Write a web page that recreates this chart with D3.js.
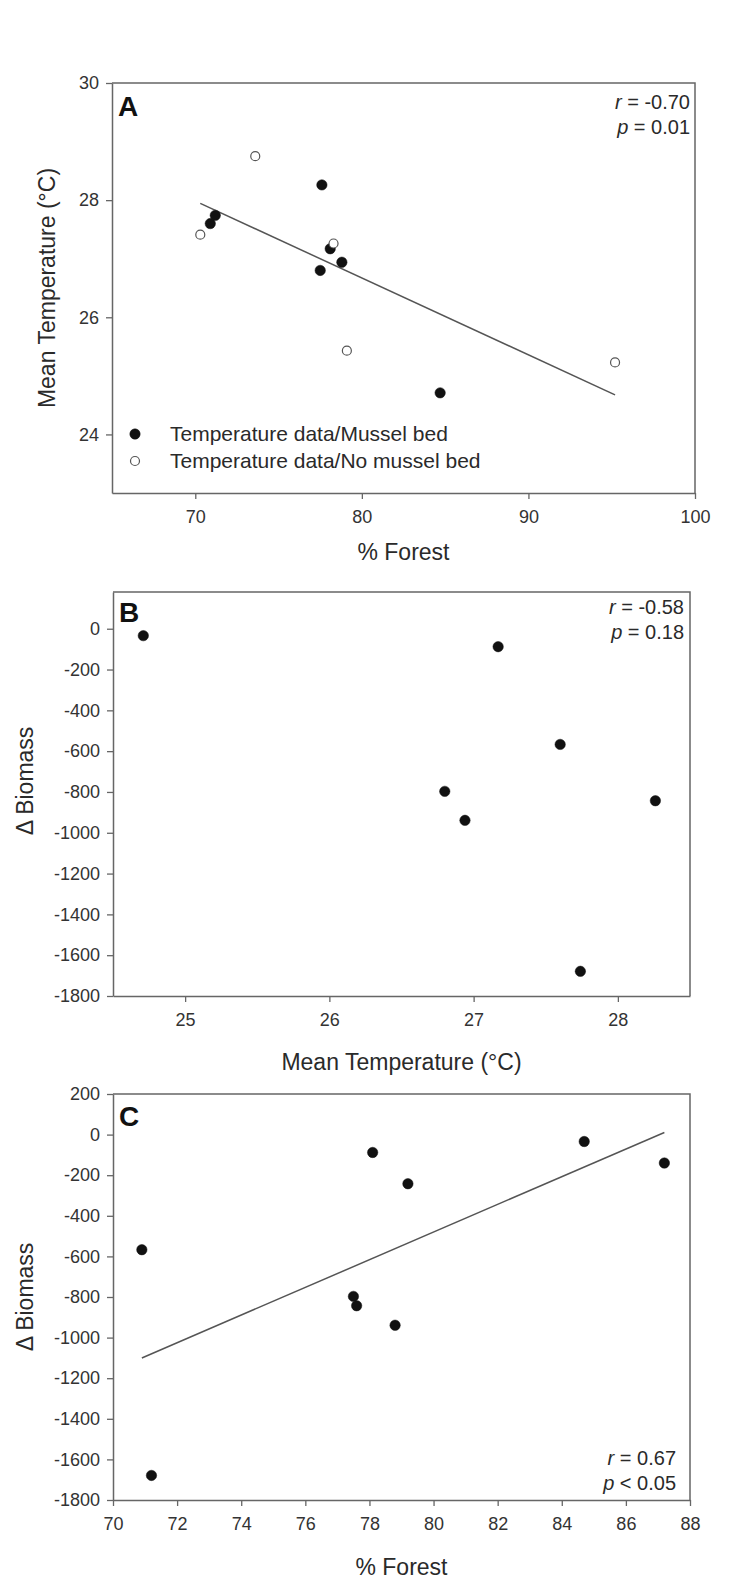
<!DOCTYPE html>
<html lang="en">
<head>
<meta charset="utf-8">
<title>Forest, temperature and mussel biomass</title>
<script src="https://cdn.jsdelivr.net/npm/d3@7"></script>
<style>
  body { margin: 0; background: #fff; }
  svg text { font-family: "Liberation Sans", Arial, sans-serif; }
</style>
</head>
<body>
<script>
// sites with temperature data and a mussel bed
var forestBed = [70.9, 71.2, 77.5, 77.6, 78.1, 78.8, 84.7];
var tempBed = [27.60, 27.74, 26.80, 28.26, 27.17, 26.94, 24.71];
var biomassBed = [-567, -1679, -797, -843, -88, -939, -34];
// sites with temperature data, no mussel bed
var forestNoBed = [70.3, 73.6, 78.3, 79.1, 95.2];
var tempNoBed = [27.41, 28.75, 27.26, 25.43, 25.23];
// sites with biomass but no temperature logger
var forestNoTemp = [79.2, 87.2];
var biomassNoTemp = [-242, -140];

// axes
var forestTicksA = [70, 80, 90, 100];
var tempTicksA = [24, 26, 28, 30];
var tempTicksB = [25, 26, 27, 28];
var biomassTicksB = [0, -200, -400, -600, -800, -1000, -1200, -1400, -1600, -1800];
var forestTicksC = [70, 72, 74, 76, 78, 80, 82, 84, 86, 88];
var biomassTicksC = [200, 0, -200, -400, -600, -800, -1000, -1200, -1400, -1600, -1800];

var legendLabels = ["Temperature data/Mussel bed", "Temperature data/No mussel bed"];
var statsA = [["r", " = -0.70"], ["p", " = 0.01"]];
var statsB = [["r", " = -0.58"], ["p", " = 0.18"]];
var statsC = [["r", " = 0.67"], ["p", " < 0.05"]];

var w = 731, h = 1581;
var ink = "#2a2a2a";
var axisGrey = "#666";

var svg = d3.select("body").append("svg")
  .attr("width", w)
  .attr("height", h);

// simple least squares, returns [slope, intercept]
function fitLine(xs, ys) {
  var mx = d3.mean(xs), my = d3.mean(ys);
  var sxy = 0, sxx = 0;
  for (var i = 0; i < xs.length; i++) {
    sxy += (xs[i] - mx) * (ys[i] - my);
    sxx += (xs[i] - mx) * (xs[i] - mx);
  }
  var b = sxy / sxx;
  return [b, my - b * mx];
}

function zip(xs, ys) {
  return xs.map(function(v, i) { return [v, ys[i]]; });
}

// plain labels: "-1800", "30"
function plain(d) { return String(d); }

function drawPanel(p) {
  var g = svg.append("g");
  var x = d3.scaleLinear().domain(p.xDomain).range([p.left, p.right]);
  var y = d3.scaleLinear().domain(p.yDomain).range([p.bottom, p.top]);

  // box: top and right sides
  g.append("path")
    .attr("d", "M" + p.left + "," + p.top + "H" + p.right + "V" + p.bottom)
    .attr("fill", "none")
    .attr("stroke", axisGrey)
    .attr("stroke-width", 1.5);

  var xAxis = d3.axisBottom(x).tickValues(p.xTicks).tickFormat(plain)
    .tickSize(6).tickSizeOuter(0).tickPadding(11);
  var yAxis = d3.axisLeft(y).tickValues(p.yTicks).tickFormat(plain)
    .tickSize(6).tickSizeOuter(0).tickPadding(7);

  var gx = g.append("g")
    .attr("transform", "translate(0," + p.bottom + ")")
    .call(xAxis);
  var gy = g.append("g")
    .attr("transform", "translate(" + p.left + ",0)")
    .call(yAxis);

  [gx, gy].forEach(function(a) {
    a.attr("font-family", null).attr("font-size", null);
    a.select(".domain").attr("stroke", axisGrey).attr("stroke-width", 1.5);
    a.selectAll(".tick line").attr("stroke", axisGrey).attr("stroke-width", 1.3);
    a.selectAll(".tick text").attr("fill", "#333").attr("font-size", "18px");
  });

  // fit line
  if (p.fit) {
    var coef = fitLine(p.fit[0], p.fit[1]);
    var ext = d3.extent(p.fit[0]);
    var line = d3.line()
      .x(function(d) { return x(d); })
      .y(function(d) { return y(coef[0] * d + coef[1]); });
    g.append("path")
      .attr("d", line(ext))
      .attr("fill", "none")
      .attr("stroke", "#555")
      .attr("stroke-width", 1.5);
  }

  // points
  p.series.forEach(function(s) {
    g.selectAll(null)
      .data(zip(s.x, s.y))
      .enter()
      .append("circle")
      .attr("cx", function(d) { return x(d[0]); })
      .attr("cy", function(d) { return y(d[1]); })
      .attr("r", s.open ? 4.5 : 5.2)
      .attr("fill", s.open ? "#fff" : "#111")
      .attr("stroke", s.open ? "#555" : "#111")
      .attr("stroke-width", s.open ? 1.2 : 0.5);
  });

  // panel letter
  g.append("text")
    .attr("x", p.left + 6)
    .attr("y", p.top + p.letterDy)
    .attr("font-size", "28px")
    .attr("font-weight", "bold")
    .attr("fill", "#111")
    .text(p.letter);

  // stats
  p.stats.forEach(function(s, i) {
    var t = g.append("text")
      .attr("x", p.statsX)
      .attr("y", p.statsY + i * 25)
      .attr("text-anchor", "end")
      .attr("font-size", "20px")
      .attr("fill", ink);
    t.append("tspan").attr("font-style", "italic").text(s[0]);
    t.append("tspan").text(s[1]);
  });

  // axis titles
  g.append("text")
    .attr("x", (p.left + p.right) / 2)
    .attr("y", p.xTitleY)
    .attr("text-anchor", "middle")
    .attr("font-size", "23px")
    .attr("fill", ink)
    .text(p.xTitle);
  g.append("text")
    .attr("transform", "translate(" + p.yTitleX + "," + p.yTitleMid + ") rotate(-90)")
    .attr("text-anchor", "middle")
    .attr("font-size", "23px")
    .attr("fill", ink)
    .text(p.yTitle);

  return g;
}

// Panel A
var gA = drawPanel({
  left: 112, right: 695, top: 83, bottom: 493,
  xDomain: [65, 100], yDomain: [23, 30],
  xTicks: forestTicksA, yTicks: tempTicksA,
  series: [
    { x: forestBed, y: tempBed, open: false },
    { x: forestNoBed, y: tempNoBed, open: true }
  ],
  fit: [forestBed.concat(forestNoBed), tempBed.concat(tempNoBed)],
  letter: "A", letterDy: 33,
  stats: statsA, statsX: 690, statsY: 109,
  xTitle: "% Forest", xTitleY: 560,
  yTitle: "Mean Temperature (\u00B0C)", yTitleX: 55, yTitleMid: 288
});

// legend for panel A
legendLabels.forEach(function(lab, i) {
  var cy = 434 + i * 27;
  gA.append("circle")
    .attr("cx", 135).attr("cy", cy)
    .attr("r", i === 0 ? 5.2 : 4.5)
    .attr("fill", i === 0 ? "#111" : "#fff")
    .attr("stroke", i === 0 ? "#111" : "#555")
    .attr("stroke-width", i === 0 ? 0.5 : 1.2);
  gA.append("text")
    .attr("x", 170).attr("y", cy + 7)
    .attr("font-size", "21px")
    .attr("fill", ink)
    .text(lab);
});

// Panel B
drawPanel({
  left: 113, right: 690, top: 592, bottom: 996,
  xDomain: [24.5, 28.5], yDomain: [-1800, 180],
  xTicks: tempTicksB, yTicks: biomassTicksB,
  series: [{ x: tempBed, y: biomassBed, open: false }],
  fit: null,
  letter: "B", letterDy: 30,
  stats: statsB, statsX: 684, statsY: 614,
  xTitle: "Mean Temperature (\u00B0C)", xTitleY: 1070,
  yTitle: "\u0394 Biomass", yTitleX: 33, yTitleMid: 781
});

// Panel C
drawPanel({
  left: 113, right: 690, top: 1094, bottom: 1500,
  xDomain: [70, 88], yDomain: [-1800, 200],
  xTicks: forestTicksC, yTicks: biomassTicksC,
  series: [
    { x: forestBed, y: biomassBed, open: false },
    { x: forestNoTemp, y: biomassNoTemp, open: false }
  ],
  fit: [forestBed.concat(forestNoTemp), biomassBed.concat(biomassNoTemp)],
  letter: "C", letterDy: 32,
  stats: statsC, statsX: 676, statsY: 1465,
  xTitle: "% Forest", xTitleY: 1575,
  yTitle: "\u0394 Biomass", yTitleX: 33, yTitleMid: 1297
});
</script>
</body>
</html>
